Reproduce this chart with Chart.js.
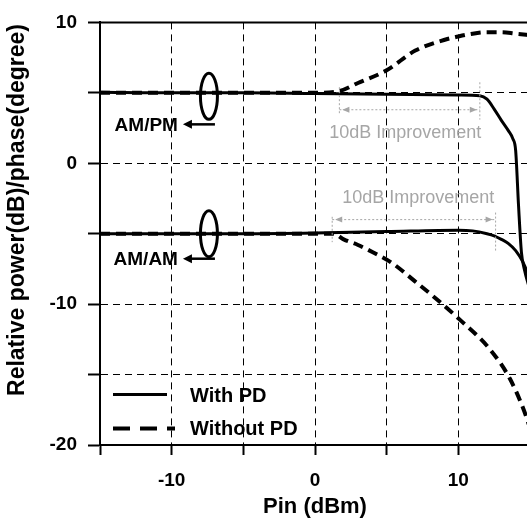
<!DOCTYPE html>
<html>
<head>
<meta charset="utf-8">
<script src="https://cdn.jsdelivr.net/npm/chart.js@4.4.0/dist/chart.umd.min.js"></script>
<style>
  html, body { margin: 0; padding: 0; background: #fff; overflow: hidden; }
  canvas { display: block; }
</style>
</head>
<body>
<canvas id="amChart" width="530" height="522"></canvas>
<script>
// labelled ticks (grid every 5)
const xTickLabels = [-10, 0, 10];
const yTickLabels = [10, 0, -10, -20];

// AM/PM with predistortion
const pmWithX = [-15, -10, -5, 0, 5, 10, 11.5, 12, 12.5, 13, 13.5, 13.8, 14, 14.2, 14.4, 14.6, 15];
const pmWithY = [5.05, 5.0, 5.0, 4.95, 4.9, 4.85, 4.8, 4.55, 3.85, 3.05, 2.3, 1.75, 0.9, -3.0, -6.3, -7.5, -9.0];

// AM/PM without predistortion
const pmWithoutX = [-15, 0, 1.6, 3, 5, 7, 9, 10, 11, 12, 13, 14, 15];
const pmWithoutY = [5.0, 5.0, 5.1, 5.7, 6.6, 8.0, 8.75, 9.0, 9.2, 9.3, 9.3, 9.2, 9.1];

// AM/AM with predistortion
const amWithX = [-15, -10, -5, 0, 5, 10, 11, 12, 12.5, 13, 13.5, 14, 14.5, 15];
const amWithY = [-5.0, -5.0, -5.0, -4.95, -4.85, -4.75, -4.8, -5.0, -5.15, -5.4, -5.7, -6.2, -7.0, -8.2];

// AM/AM without predistortion
const amWithoutX = [-15, 0, 1.3, 2, 3, 4, 5.4, 7, 8.2, 10.1, 12.2, 13.6, 14.6, 15];
const amWithoutY = [-5.0, -5.0, -5.0, -5.4, -5.8, -6.3, -7.1, -8.4, -9.4, -11.1, -13.2, -15.3, -17.6, -18.8];

const pts = (xs, ys) => xs.map((x, i) => ({ x, y: ys[i] }));

const FONT = "'Liberation Sans', Arial, sans-serif";
const solid = { borderColor: '#000', borderWidth: 3, pointRadius: 0, cubicInterpolationMode: 'monotone', fill: false };
const dashed = { borderColor: '#000', borderWidth: 4, borderDash: [10, 6], pointRadius: 0, cubicInterpolationMode: 'monotone', fill: false };

function arrowHead(ctx, x, y, dir, len, half) {
  ctx.beginPath();
  ctx.moveTo(x, y);
  ctx.lineTo(x - dir * len, y - half);
  ctx.lineTo(x - dir * len, y + half);
  ctx.closePath();
  ctx.fill();
}

// ellipses, arrows, improvement markers, legend and y title
const annotate = {
  id: 'annotate',
  afterDatasetsDraw(chart) {
    const { ctx, chartArea: a, scales: { x, y } } = chart;
    ctx.save();

    // solid top frame
    ctx.strokeStyle = '#000';
    ctx.lineWidth = 2;
    ctx.beginPath();
    ctx.moveTo(a.left, a.top);
    ctx.lineTo(a.right, a.top);
    ctx.stroke();

    // curve group markers
    [['AM/PM', 4.75, 28], ['AM/AM', -5.0, 25]].forEach(([txt, yv, drop]) => {
      const cx = x.getPixelForValue(-7.4);
      const cy = y.getPixelForValue(yv);
      ctx.lineWidth = 3;
      ctx.beginPath();
      ctx.ellipse(cx, cy, 8.5, 23, 0, 0, Math.PI * 2);
      ctx.stroke();
      const ay = cy + drop;
      ctx.lineWidth = 2.5;
      ctx.beginPath();
      ctx.moveTo(cx + 6, ay);
      ctx.lineTo(cx - 18, ay);
      ctx.stroke();
      ctx.fillStyle = '#000';
      arrowHead(ctx, cx - 26, ay, -1, 9, 4.5);
      ctx.font = `bold 19px ${FONT}`;
      ctx.textAlign = 'right';
      ctx.textBaseline = 'middle';
      ctx.fillText(txt, cx - 31, ay + 1);
    });

    // 10 dB improvement markers
    const grey = '#a6a6a6';
    [
      { x0: 1.7, x1: 11.5, ly: 3.8, l: [5.4, 3.5], r: [5.75, 3.1], tx: 6.3, ty: 2.14 },
      { x0: 1.2, x1: 12.6, ly: -4.0, l: [-3.8, -5.6], r: [-3.5, -6.3], tx: 7.2, ty: -2.46 }
    ].forEach(m => {
      const px0 = x.getPixelForValue(m.x0), px1 = x.getPixelForValue(m.x1);
      const py = y.getPixelForValue(m.ly);
      ctx.strokeStyle = grey;
      ctx.fillStyle = grey;
      ctx.lineWidth = 1;
      ctx.setLineDash([2, 2]);
      ctx.beginPath();
      ctx.moveTo(px0, py); ctx.lineTo(px1, py);
      ctx.moveTo(px0, y.getPixelForValue(m.l[0])); ctx.lineTo(px0, y.getPixelForValue(m.l[1]));
      ctx.moveTo(px1, y.getPixelForValue(m.r[0])); ctx.lineTo(px1, y.getPixelForValue(m.r[1]));
      ctx.stroke();
      ctx.setLineDash([]);
      arrowHead(ctx, px1 - 3, py, 1, 7, 3);
      arrowHead(ctx, px0 + 3, py, -1, 7, 3);
      ctx.font = `18px ${FONT}`;
      ctx.textAlign = 'center';
      ctx.textBaseline = 'middle';
      ctx.fillText('10dB Improvement', x.getPixelForValue(m.tx), y.getPixelForValue(m.ty));
    });

    // legend
    ctx.strokeStyle = '#000';
    ctx.fillStyle = '#000';
    ctx.lineWidth = 3;
    ctx.beginPath();
    ctx.moveTo(a.left + 13, a.top + 372); ctx.lineTo(a.left + 67, a.top + 372);
    ctx.stroke();
    ctx.lineWidth = 4;
    ctx.setLineDash([17, 10]);
    ctx.beginPath();
    ctx.moveTo(a.left + 13, a.top + 406); ctx.lineTo(a.left + 75, a.top + 406);
    ctx.stroke();
    ctx.setLineDash([]);
    ctx.font = `bold 20px ${FONT}`;
    ctx.textAlign = 'left';
    ctx.textBaseline = 'middle';
    ctx.fillText('With PD', a.left + 90, a.top + 374);
    ctx.fillText('Without PD', a.left + 90, a.top + 407);

    // y axis title
    ctx.translate(18, 210);
    ctx.rotate(-Math.PI / 2);
    ctx.font = `bold 23px ${FONT}`;
    ctx.textAlign = 'center';
    ctx.fillText('Relative power(dB)/phase(degree)', 0, 0);
    ctx.restore();
  }
};

new Chart(document.getElementById('amChart'), {
  type: 'line',
  data: {
    datasets: [
      { label: 'AM/PM With PD', data: pts(pmWithX, pmWithY), ...solid },
      { label: 'AM/AM With PD', data: pts(amWithX, amWithY), ...solid },
      { label: 'AM/PM Without PD', data: pts(pmWithoutX, pmWithoutY), ...dashed },
      { label: 'AM/AM Without PD', data: pts(amWithoutX, amWithoutY), ...dashed }
    ]
  },
  options: {
    responsive: false,
    animation: false,
    layout: { padding: { top: 14, left: 0, right: 0, bottom: 0 } },
    plugins: { legend: { display: false }, tooltip: { enabled: false } },
    scales: {
      x: {
        type: 'linear',
        min: -15,
        max: 15,
        afterFit: s => { s.height = 77; s.paddingLeft = 0; s.paddingRight = 0; },
        border: { display: true, color: '#000', width: 2, dash: [7, 5] },
        grid: { color: '#000', lineWidth: 1, tickLength: 10, tickColor: '#000', tickWidth: 2 },
        ticks: {
          stepSize: 5,
          padding: 14,
          color: '#000',
          font: { family: FONT, size: 19, weight: 'bold' },
          callback: v => xTickLabels.includes(v) ? String(v) : ''
        },
        title: {
          display: true,
          text: 'Pin (dBm)',
          color: '#000',
          font: { family: FONT, size: 22, weight: 'bold' },
          padding: { top: 0, bottom: 2 }
        }
      },
      y: {
        min: -20,
        max: 10,
        afterFit: s => { s.width = 100; },
        border: { display: true, color: '#000', width: 2, dash: [7, 5] },
        grid: { color: '#000', lineWidth: 1, tickLength: 12, tickColor: '#000', tickWidth: 2 },
        ticks: {
          stepSize: 5,
          padding: 11,
          color: '#000',
          font: { family: FONT, size: 19, weight: 'bold' },
          callback: v => yTickLabels.includes(v) ? String(v) : ''
        }
      }
    }
  },
  plugins: [annotate]
});
</script>
</body>
</html>
